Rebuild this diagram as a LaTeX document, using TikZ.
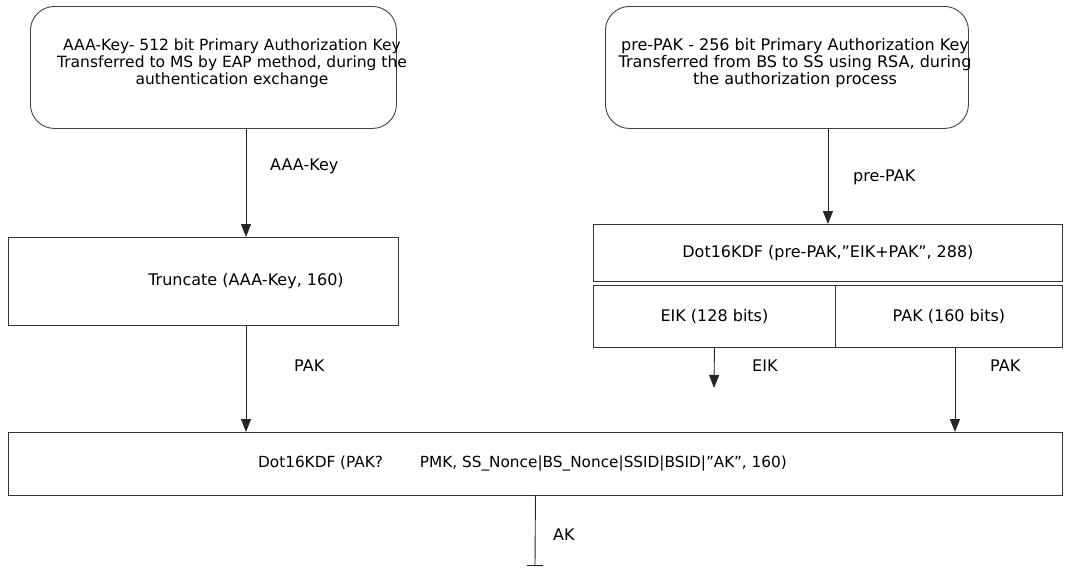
\documentclass[tikz,border=0pt]{standalone}
\usepackage{fontspec}
\setmainfont{DejaVu Sans}
\usetikzlibrary{arrows.meta}
\begin{document}
\begin{tikzpicture}[x=1pt,y=-1pt,font=\fontsize{16}{17}\selectfont,
keybox/.style={draw=black!75, line width=0.9pt, rounded corners=24pt, anchor=north west},
box/.style={draw=black!80, line width=0.9pt, inner sep=0pt, anchor=north west},
flow/.style={draw=black!85, line width=0.9pt, -{Triangle[length=13pt,width=10pt]}},
akline/.style={draw=black!85, line width=0.9pt, -{Bar[width=16pt]}},
lbl/.style={anchor=west, inner sep=0pt}]
\useasboundingbox (0,0) rectangle (1072,568);
\node[keybox, minimum width=366pt, minimum height=122pt] (aaabox) at (30,6) {};
\node[align=center, font=\fontsize{15.5}{17}\selectfont] (aaatext) at (232,63) {AAA-Key- 512 bit Primary Authorization Key\\Transferred to MS by EAP method, during the\\authentication exchange};
\node[keybox, minimum width=363pt, minimum height=122pt] (prepakbox) at (605,6) {};
\node[align=center] (prepaktext) at (795,63) {pre-PAK - 256 bit Primary Authorization Key\\Transferred from BS to SS using RSA, during\\the authorization process};
\node[box, minimum width=390pt, minimum height=88pt] (trunc) at (8,237) {};
\node (trunctext) at (246,281) {Truncate (AAA-Key, 160)};
\node[box, minimum width=469pt, minimum height=57pt] (kdf) at (593,224) {Dot16KDF (pre-PAK,”EIK+PAK”, 288)};
\node[box, minimum width=242pt, minimum height=62pt] (eikcell) at (593,285) {EIK (128 bits)};
\node[box, minimum width=227pt, minimum height=62pt] (pakcell) at (835,285) {PAK (160 bits)};
\node[box, minimum width=1054pt, minimum height=63pt, font=\fontsize{15.3}{17}\selectfont] (final) at (8,432) {Dot16KDF (PAK?\hspace{32pt} PMK, SS\_Nonce|BS\_Nonce|SSID|BSID|”AK”, 160)\kern26pt};
\coordinate (eikend) at (714,388);
\coordinate (akend) at (535,566);
\draw[flow] (aaabox.south -| trunctext) -- (trunc.north -| trunctext);
\draw[flow] (prepakbox.south -| kdf.north) -- (kdf.north);
\draw[flow] (trunc.south -| trunctext) -- (final.north -| trunctext);
\draw[flow] (eikcell.south) -- (eikend);
\draw[flow] ([xshift=6pt]pakcell.south) -- ([xshift=6pt]pakcell.south |- final.north);
\draw[akline] (final.south) -- (akend);
\node[lbl] (aaalbl) at (270,166) {AAA-Key};
\node[lbl] (prepaklbl) at (853,177) {pre-PAK};
\node[lbl] (paklbl) at (294,366) {PAK};
\node[lbl] (eiklbl) at (752,366) {EIK};
\node[lbl] (pakrlbl) at (990,366) {PAK};
\node[lbl] (aklbl) at (553,535) {AK};
\end{tikzpicture}
\end{document}
